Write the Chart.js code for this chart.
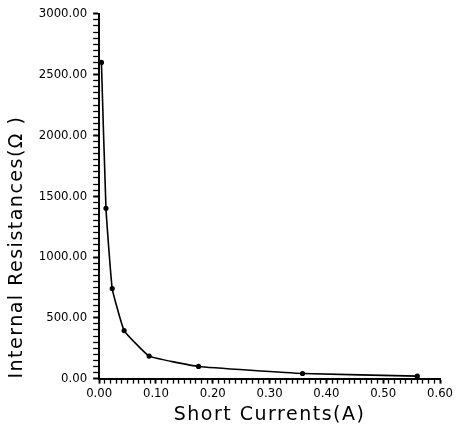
<!DOCTYPE html>
<html>
<head>
<meta charset="utf-8">
<script src="https://cdn.jsdelivr.net/npm/chart.js@4"></script>
<style>
  body { margin: 0; background: #fff; }
  #wrap { width: 462px; height: 427px; }
</style>
</head>
<body>
<div id="wrap"><canvas id="myChart" width="462" height="427"></canvas></div>
<script>
// values
const shortCurrents = [0.004, 0.012, 0.023, 0.044, 0.088, 0.175, 0.358, 0.56];
const resistances = [2600, 1400, 740, 395, 185, 100, 42, 20];
const xTicks = [0, 0.1, 0.2, 0.3, 0.4, 0.5, 0.6];
const yTicks = [0, 500, 1000, 1500, 2000, 2500, 3000];
const xMinorStep = 0.01;
const yMinorStep = 50;

const ctx = document.getElementById('myChart').getContext('2d');

const points = shortCurrents.map((c, i) => ({ x: c, y: resistances[i] }));

function isMajorX(v) {
    return xTicks.some(t => Math.abs(t - v) < 1e-6);
}
function isMajorY(v) {
    return yTicks.some(t => Math.abs(t - v) < 1e-6);
}

// every small tick along an axis, from first to last major tick
function minorTicks(major, step) {
    const out = [];
    const lo = major[0], hi = major[major.length - 1];
    const n = Math.round((hi - lo) / step);
    for (let i = 0; i <= n; i++) out.push({ value: +(lo + i * step).toFixed(6) });
    return out;
}

// the scan has wide, spaced-out lettering in the axis titles
const spacedTitles = {
    id: 'spacedTitles',
    afterUpdate(chart) {
        Object.values(chart.scales).forEach(scale => {
            if (scale._spaced) return;
            const orig = scale.drawTitle;
            scale.drawTitle = function () {
                chart.ctx.save();
                chart.ctx.letterSpacing = '1.5px';
                orig.apply(this, arguments);
                chart.ctx.restore();
            };
            scale._spaced = true;
        });
    }
};

const tickFont = { family: "'DejaVu Sans Condensed', 'DejaVu Sans'", size: 13 };
const titleFont = { family: 'DejaVu Sans', size: 19 };

const myChart = new Chart(ctx, {
    type: 'line',
    data: {
        datasets: [{
            data: points,
            borderColor: '#000',
            backgroundColor: '#000',
            borderWidth: 1.6,
            pointRadius: 1.8,
            tension: 0.1
        }]
    },
    options: {
        responsive: false,
        animation: false,
        layout: { padding: { top: 5, right: 22, left: 6, bottom: 1 } },
        plugins: {
            legend: { display: false },
            tooltip: { enabled: false }
        },
        scales: {
            x: {
                type: 'linear',
                min: 0,
                max: 0.6,
                afterBuildTicks: axis => { axis.ticks = minorTicks(xTicks, xMinorStep); },
                border: { color: '#000', width: 2 },
                grid: {
                    drawOnChartArea: false,
                    tickLength: 5,
                    tickColor: '#000',
                    tickWidth: c => isMajorX(c.tick.value) ? 2 : 1.3
                },
                ticks: {
                    autoSkip: false,
                    source: 'ticks',
                    maxRotation: 0,
                    color: '#000',
                    font: tickFont,
                    padding: 2,
                    callback: v => isMajorX(v) ? v.toFixed(2) : ''
                },
                title: {
                    display: true,
                    text: 'Short Currents(A)',
                    color: '#000',
                    font: titleFont,
                    padding: { top: 0, bottom: 0 }
                }
            },
            y: {
                min: 0,
                max: 3000,
                afterBuildTicks: axis => { axis.ticks = minorTicks(yTicks, yMinorStep); },
                border: { color: '#000', width: 2 },
                grid: {
                    drawOnChartArea: false,
                    tickLength: 6,
                    tickColor: '#000',
                    tickWidth: c => isMajorY(c.tick.value) ? 2 : 1.3
                },
                ticks: {
                    autoSkip: false,
                    source: 'ticks',
                    color: '#000',
                    font: tickFont,
                    padding: 6,
                    callback: v => isMajorY(v) ? v.toFixed(2) : ''
                },
                title: {
                    display: true,
                    text: 'Internal Resistances(Ω )',
                    align: 'start',
                    color: '#000',
                    font: titleFont,
                    padding: { top: 0, bottom: 4 }
                }
            }
        }
    },
    plugins: [spacedTitles]
});
</script>
</body>
</html>
